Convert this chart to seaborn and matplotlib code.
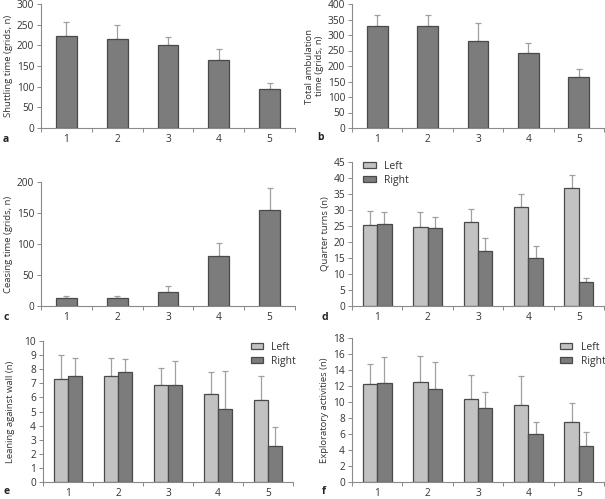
import numpy as np
import pandas as pd
import matplotlib
matplotlib.use("Agg")
import matplotlib.pyplot as plt
from matplotlib.ticker import MultipleLocator, FixedLocator
import seaborn as sns

# ---- data ----
groups = ["1", "2", "3", "4", "5"]

shuttling    = [222, 215, 200, 165, 95]
shuttling_sd = [35, 35, 21, 26, 14]

ambulation    = [328, 328, 282, 243, 164]
ambulation_sd = [35, 38, 57, 30, 27]

ceasing    = [13, 13, 23, 80, 155]
ceasing_sd = [2.5, 2.5, 9, 22, 35]

turns_left     = [25.4, 24.6, 26.4, 31.0, 36.9]
turns_left_sd  = [4.3, 4.9, 3.9, 3.9, 3.9]
turns_right    = [25.6, 24.4, 17.2, 15.1, 7.5]
turns_right_sd = [3.9, 3.3, 4.0, 3.5, 1.1]

lean_left     = [7.3, 7.55, 6.85, 6.25, 5.8]
lean_left_sd  = [1.7, 1.25, 1.25, 1.55, 1.7]
lean_right    = [7.5, 7.8, 6.9, 5.2, 2.55]
lean_right_sd = [1.3, 0.9, 1.7, 2.65, 1.35]

expl_left     = [12.2, 12.5, 10.4, 9.65, 7.5]
expl_left_sd  = [2.6, 3.25, 2.95, 3.6, 2.4]
expl_right    = [12.4, 11.65, 9.3, 6.0, 4.5]
expl_right_sd = [3.25, 3.35, 1.95, 1.55, 1.75]

sides = ["Left", "Right"]

DARK, LIGHT = "#7c7c7c", "#c2c2c2"
EDGE, ERRC, AXC, TXT = "#4a4a4a", "#a0a0a0", "#8a8a8a", "#333333"

sns.set_theme(style="ticks")
plt.rcParams["font.family"] = ["Open Sans", "DejaVu Sans"]
plt.rcParams["font.size"] = 7

W, H = 605, 499
fig = plt.figure(figsize=(W / 100, H / 100), dpi=100)


def px_axes(left, right, top, bottom):
    return fig.add_axes([left / W, 1 - bottom / H, (right - left) / W, (bottom - top) / H])


def style(ax, ymax, step, ylabel, labelpad=3):
    ax.set_xlim(-0.5, 4.5)
    ax.set_ylim(0, ymax)
    ax.yaxis.set_major_locator(MultipleLocator(step))
    ax.xaxis.set_minor_locator(FixedLocator(np.arange(-0.5, 5, 1)))
    ax.tick_params(axis="x", which="major", length=0, pad=4, labelsize=7.3, colors=TXT)
    ax.tick_params(axis="x", which="minor", length=3, width=0.7, color=AXC)
    ax.tick_params(axis="y", length=3, width=0.7, color=AXC, pad=2, labelsize=7.3, labelcolor=TXT)
    for s in ["top", "right"]:
        ax.spines[s].set_visible(False)
    for s in ["left", "bottom"]:
        ax.spines[s].set_color(AXC)
        ax.spines[s].set_linewidth(0.8)
    ax.set_xlabel("")
    ax.set_ylabel(ylabel, fontsize=6.8, color=TXT, labelpad=labelpad, linespacing=1.1)


def add_err(ax, container, sd):
    xs = [p.get_x() + p.get_width() / 2 for p in container.patches]
    ys = [p.get_height() for p in container.patches]
    ax.errorbar(xs, ys, yerr=[np.zeros(len(sd)), sd], fmt="none", ecolor=ERRC,
                elinewidth=0.9, capsize=2, capthick=0.9, zorder=1)


def single(ax, vals, sd, ymax, step, ylabel):
    sns.barplot(x=groups, y=vals, color=DARK, width=0.41, edgecolor=EDGE,
                linewidth=0.9, saturation=1, errorbar=None, ax=ax, zorder=2)
    add_err(ax, ax.containers[0], sd)
    style(ax, ymax, step, ylabel)


def paired(ax, left, left_sd, right, right_sd, ymax, step, ylabel, leg_anchor, labelpad=3):
    df = pd.DataFrame({
        "group": groups * 2,
        "side": [sides[0]] * 5 + [sides[1]] * 5,
        "value": left + right,
    })
    sns.barplot(data=df, x="group", y="value", hue="side", palette=[LIGHT, DARK],
                width=0.57, gap=0, edgecolor=EDGE, linewidth=0.9, saturation=1,
                errorbar=None, ax=ax, zorder=2)
    bars = list(ax.containers)
    for cont, sd in zip(bars, [left_sd, right_sd]):
        add_err(ax, cont, sd)
    style(ax, ymax, step, ylabel, labelpad)
    handles = [c.patches[0] for c in bars]
    ax.legend(handles, sides, loc="upper left", bbox_to_anchor=leg_anchor, frameon=False,
              fontsize=7.5, handlelength=1.2, handleheight=0.6, handletextpad=0.8,
              labelspacing=0.3, borderpad=0, borderaxespad=0, labelcolor=TXT)


ax_a = px_axes(41, 295, 4, 128)
single(ax_a, shuttling, shuttling_sd, 300, 50, "Shuttling time (grids, n)")

ax_b = px_axes(352, 604, 4, 128)
single(ax_b, ambulation, ambulation_sd, 400, 50, "Total ambulation\ntime (grids, n)")

ax_c = px_axes(41, 295, 182, 306)
single(ax_c, ceasing, ceasing_sd, 200, 50, "Ceasing time (grids, n)")

ax_d = px_axes(352, 604, 162, 306)
paired(ax_d, turns_left, turns_left_sd, turns_right, turns_right_sd, 45, 5,
       "Quarter turns (n)", (0.045, 1.01))

ax_e = px_axes(43, 293, 341, 482)
paired(ax_e, lean_left, lean_left_sd, lean_right, lean_right_sd, 10, 1,
       "Leaning against wall (n)", (0.83, 0.995), labelpad=6.5)

ax_f = px_axes(352, 604, 338, 482)
paired(ax_f, expl_left, expl_left_sd, expl_right, expl_right_sd, 18, 2,
       "Exploratory activities (n)", (0.825, 0.975))

for lab, x, y in [("a", 3, 139), ("b", 317, 138), ("c", 3, 318), ("d", 322, 317),
                  ("e", 3, 492), ("f", 322, 492)]:
    fig.text(x / W, 1 - y / H, lab, fontsize=7.5, fontweight="bold", color="#222222",
             ha="left", va="center")

fig.savefig("out.png", dpi=100)
